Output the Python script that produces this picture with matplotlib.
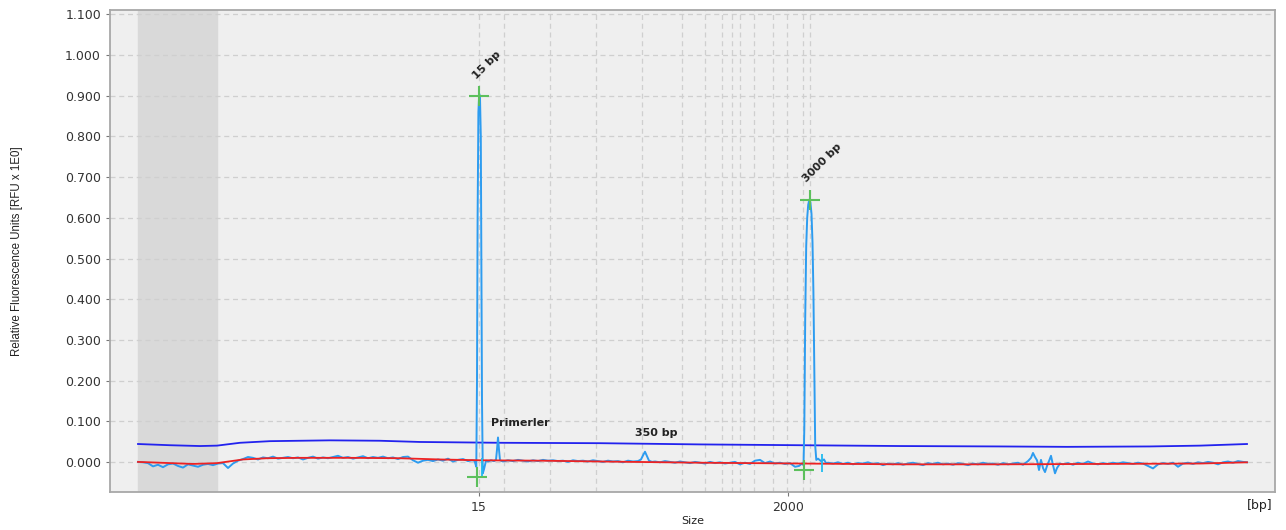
import numpy as np
import matplotlib
matplotlib.use("Agg")
import matplotlib.pyplot as plt

# positions along the run (scan units)
ladder_x = [479, 504, 550, 596, 642, 682, 705, 722, 732, 740, 754, 773, 787, 803, 810]
tick_pos = [479, 788]
tick_lab = ["15", "2000"]
yticks = [0.0, 0.1, 0.2, 0.3, 0.4, 0.5, 0.6, 0.7, 0.8, 0.9, 1.0, 1.1]
masked = (138, 217)

# threshold (blue) and baseline (red)
thr_x = [138, 170, 200, 217, 240, 270, 330, 380, 420, 500, 600, 700, 800, 900, 1000, 1067, 1150, 1200, 1247]
thr_y = [0.044, 0.041, 0.039, 0.040, 0.047, 0.051, 0.053, 0.052, 0.049, 0.047, 0.046, 0.043, 0.041,
         0.039, 0.038, 0.037, 0.038, 0.040, 0.044]
base_x = [138, 160, 193, 217, 243, 267, 300, 350, 400, 440, 480, 540, 600, 700, 800, 900, 1000, 1100, 1200, 1247]
base_y = [0.000, -0.002, -0.005, -0.003, 0.006, 0.009, 0.010, 0.010, 0.009, 0.006, 0.004, 0.003, 0.001,
          -0.002, -0.004, -0.006, -0.006, -0.005, -0.004, -0.001]

# signal trace
sig_x = [138, 143, 148, 153, 158, 163, 168, 173, 178, 183,
         188, 193, 198, 203, 208, 213, 218, 223, 228, 233,
         238, 243, 248, 253, 258, 263, 268, 273, 278, 283,
         288, 293, 298, 303, 308, 313, 318, 323, 328, 333,
         338, 343, 348, 353, 358, 363, 368, 373, 378, 383,
         388, 393, 398, 403, 408, 413, 418, 423, 428, 433,
         438, 443, 448, 453, 458, 463, 468, 472,
         474.5, 476.3, 477.0, 477.6, 478.4, 479.2, 480.0, 480.8, 481.4, 482.0, 482.8, 484, 486, 488,
         491, 494, 496, 497, 498, 499, 500, 503,
         508, 513, 518, 523, 528, 533, 538, 543, 548,
         553, 558, 563, 568, 573, 578, 583, 588, 593, 598,
         603, 608, 613, 618, 623, 628, 633, 638,
         641, 643, 645, 647, 649, 652,
         655, 660, 665, 670, 675, 680, 685, 690, 695, 700,
         705, 710, 715, 720, 725, 730, 735, 740, 745, 750,
         755, 760, 765, 770, 775, 780, 785, 790, 795, 799, 802,
         803.5, 804.3, 805.2, 806.2, 807.2, 808.2, 809.3, 810.4, 811.5, 812.5, 813.4, 814.3, 815.2, 816.3,
         818, 821, 824, 826,
         828, 833, 838, 843, 848, 853, 858, 863, 868, 873,
         878, 883, 888, 893, 898, 903, 908, 913, 918, 923,
         928, 933, 938, 943, 948, 953, 958, 963, 968, 973,
         978, 983, 988, 993, 998, 1003, 1008, 1013, 1018, 1023,
         1028, 1031, 1033, 1035, 1037, 1039, 1041, 1043, 1045, 1047, 1049, 1051, 1053, 1055, 1057, 1060,
         1063, 1068, 1073, 1078, 1083, 1088, 1093, 1098, 1103, 1108,
         1113, 1118, 1123, 1128, 1133, 1138, 1143, 1148, 1153, 1158,
         1163, 1168, 1173, 1178, 1183, 1188, 1193, 1198, 1203, 1208,
         1213, 1218, 1223, 1228, 1233, 1238, 1243, 1247]
sig_y = [0.000, -0.001, -0.003, -0.011, -0.007, -0.013, -0.006, -0.004, -0.010, -0.014,
         -0.006, -0.009, -0.012, -0.007, -0.005, -0.008, -0.004, -0.003, -0.015, -0.004,
         0.003, 0.007, 0.012, 0.010, 0.006, 0.011, 0.009, 0.013, 0.008, 0.010,
         0.012, 0.009, 0.011, 0.006, 0.010, 0.013, 0.008, 0.011, 0.009, 0.012,
         0.015, 0.010, 0.012, 0.008, 0.011, 0.014, 0.009, 0.012, 0.010, 0.013,
         0.009, 0.011, 0.007, 0.012, 0.013, 0.004, -0.002, 0.003, 0.005, 0.002,
         0.006, 0.003, 0.008, 0.001, 0.005, 0.007, 0.002, 0.004,
         0.003, -0.012, 0.200, 0.600, 0.860, 0.905, 0.895, 0.800, 0.500, 0.150, -0.028, -0.018, 0.003, 0.001,
         0.004, 0.002, 0.005, 0.030, 0.060, 0.030, 0.004, 0.001,
         0.004, 0.002, 0.005, 0.003, 0.001, 0.004, 0.002, 0.005, 0.003,
         0.004, 0.002, 0.003, 0.000, 0.004, 0.002, 0.003, 0.001, 0.004, 0.002,
         0.000, 0.003, 0.001, 0.002, -0.001, 0.003, 0.001, 0.002,
         0.006, 0.016, 0.025, 0.014, 0.003, 0.000,
         0.001, -0.001, 0.002, 0.000, -0.002, 0.001, -0.001, -0.003, 0.000, -0.002,
         -0.004, 0.000, -0.003, -0.001, -0.004, -0.002, 0.000, -0.006, -0.002, -0.005,
         0.003, 0.005, -0.003, 0.001, -0.004, -0.002, -0.005, -0.003, -0.012, -0.010, -0.004,
         -0.008, 0.080, 0.350, 0.530, 0.600, 0.632, 0.645, 0.638, 0.610, 0.540, 0.420, 0.220, 0.040, 0.005,
         0.008, 0.002, 0.006, -0.003,
         -0.002, -0.004, -0.001, -0.005, -0.002, -0.006, -0.003, -0.004, -0.001, -0.005,
         -0.003, -0.008, -0.004, -0.006, -0.003, -0.007, -0.004, -0.002, -0.005, -0.008,
         -0.003, -0.005, -0.002, -0.006, -0.004, -0.007, -0.003, -0.005, -0.008, -0.004,
         -0.006, -0.002, -0.005, -0.004, -0.007, -0.003, -0.006, -0.004, -0.002, -0.007,
         0.002, 0.010, 0.022, 0.012, 0.004, -0.020, 0.005, -0.015, -0.025, -0.010, 0.002, 0.015, -0.008, -0.028, -0.015, -0.004,
         -0.006, -0.003, -0.007, -0.002, -0.005, 0.001, -0.004, -0.006, -0.003, -0.005,
         -0.002, -0.004, -0.001, -0.003, -0.005, -0.002, -0.004, -0.010, -0.016, -0.006,
         -0.003, -0.005, -0.002, -0.012, -0.004, -0.002, -0.005, -0.001, -0.003, 0.000,
         -0.002, -0.006, -0.001, 0.001, -0.002, 0.002, 0.000, -0.001]

# peak start/top markers (green) and peak ends (cyan)
cross_x = [479, 477, 810, 804]
cross_y = [0.900, -0.037, 0.645, -0.019]
end_x = [482, 822]
end_y = [-0.012, -0.002]

# peak labels
lab_txt = ["15 bp", "3000 bp", "Primerler", "350 bp"]
lab_x = [487, 822, 520, 656]
lab_y = [0.975, 0.735, 0.095, 0.070]
lab_rot = [45, 45, 0, 0]

fig = plt.figure(figsize=(12.86, 5.30), dpi=100)
ax = fig.add_axes([110 / 1286, 1 - 492 / 530, 1165 / 1286, 482 / 530])
ax.set_facecolor("#efefef")
ax.axvspan(masked[0], masked[1], color="#d9d9d9", zorder=0)

for y in yticks:
    ax.axhline(y, color="#cfcfcf", lw=0.9, ls=(0, (4, 3)), zorder=1)
for x in ladder_x:
    ax.axvline(x, color="#cfcfcf", lw=0.9, ls=(0, (4, 3)), zorder=1)

ax.plot(thr_x, thr_y, color="#2222ee", lw=1.3, zorder=3)
ax.plot(sig_x, sig_y, color="#2d9cf0", lw=1.4, zorder=4)
ax.plot(base_x, base_y, color="#ee2222", lw=1.3, zorder=5)
ax.plot(cross_x, cross_y, ls="none", marker="+", ms=15, mew=1.5, color="#5cc05c", zorder=6)
ax.plot(end_x, end_y, ls="none", marker="|", ms=13, mew=1.3, color="#22bbee", zorder=6)

for t, x, y, r in zip(lab_txt, lab_x, lab_y, lab_rot):
    ax.text(x, y, t, rotation=r, fontsize=8, fontweight="bold", color="#222222",
            ha="center", va="center", zorder=7)

ax.set_xlim(110, 1275)
ax.set_ylim(-0.074, 1.111)
ax.set_yticks(yticks)
ax.set_yticklabels(["%.3f" % v for v in yticks])
ax.set_xticks(tick_pos)
ax.set_xticklabels(tick_lab)
ax.tick_params(axis="both", labelsize=9, colors="#333333", length=3, color="#777777")
for s in ax.spines.values():
    s.set_color("#a8a8a8")
    s.set_linewidth(1.3)

fig.text(17 / 1286, 1 - 251 / 530, "Relative Fluorescence Units [RFU x 1E0]", rotation=90,
         ha="center", va="center", fontsize=8.3, family="Liberation Sans", color="#222222")
fig.text(693 / 1286, 1 - 521 / 530, "Size", ha="center", va="center", fontsize=8, color="#222222")
fig.text(1260 / 1286, 1 - 505 / 530, "[bp]", ha="center", va="center", fontsize=9, color="#222222")

fig.savefig("out.png", dpi=100)
